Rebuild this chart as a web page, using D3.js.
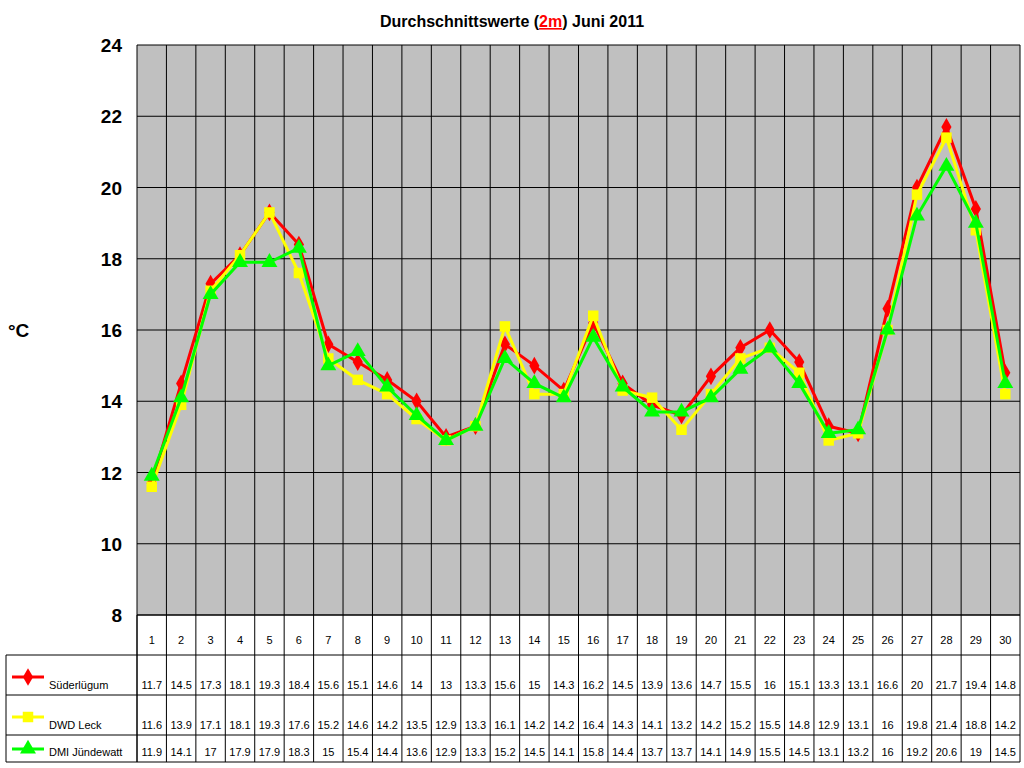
<!DOCTYPE html><html><head><meta charset="utf-8"><script src="https://cdn.jsdelivr.net/npm/d3@7"></script>
<style>body{margin:0;background:#fff}svg{font-family:"Liberation Sans",Arial,sans-serif}</style></head><body><svg width="1024" height="768"></svg><script>
const days=d3.range(1,31).map(String);
const yTicks=[8,10,12,14,16,18,20,22,24];
const seriesNames=["Süderlügum","DWD Leck","DMI Jündewatt"];
const suder=[11.7,14.5,17.3,18.1,19.3,18.4,15.6,15.1,14.6,14,13,13.3,15.6,15,14.3,16.2,14.5,13.9,13.6,14.7,15.5,16,15.1,13.3,13.1,16.6,20,21.7,19.4,14.8];
const leck=[11.6,13.9,17.1,18.1,19.3,17.6,15.2,14.6,14.2,13.5,12.9,13.3,16.1,14.2,14.2,16.4,14.3,14.1,13.2,14.2,15.2,15.5,14.8,12.9,13.1,16,19.8,21.4,18.8,14.2];
const dmi=[11.9,14.1,17,17.9,17.9,18.3,15,15.4,14.4,13.6,12.9,13.3,15.2,14.5,14.1,15.8,14.4,13.7,13.7,14.1,14.9,15.5,14.5,13.1,13.2,16,19.2,20.6,19,14.5];
const data=[suder,leck,dmi];
const colors=["#ff0000","#ffff00","#00ff00"];
const svg=d3.select("svg");
const L=137,R=1020,T=45,B=615;
const x=d3.scaleBand().domain(days).range([L,R]);
const y=d3.scaleLinear().domain([8,24]).range([B,T]);
svg.append("rect").attr("x",L).attr("y",T).attr("width",R-L).attr("height",B-T).attr("fill","#c0c0c0");
const t=svg.append("text").attr("x",512).attr("y",27).attr("text-anchor","middle").attr("font-size",16).attr("font-weight","bold");
t.append("tspan").text("Durchschnittswerte (");t.append("tspan").attr("fill","#ff0000").attr("text-decoration","underline").text("2m");t.append("tspan").text(") Juni 2011");
yTicks.forEach(v=>{svg.append("line").attr("x1",L).attr("x2",R).attr("y1",y(v)).attr("y2",y(v)).attr("stroke","#000");
 svg.append("text").attr("x",122).attr("y",y(v)+7).attr("text-anchor","end").attr("font-size",19).attr("font-weight","bold").text(v);});
svg.append("text").attr("x",8).attr("y",337).attr("font-size",19).attr("font-weight","bold").text("°C");
const rows=[655,695,735,762];
days.forEach((d,i)=>{svg.append("line").attr("x1",x(d)).attr("x2",x(d)).attr("y1",T).attr("y2",762).attr("stroke","#000");
 svg.append("text").attr("x",x(d)+x.bandwidth()/2).attr("y",644).attr("text-anchor","middle").attr("font-size",11).text(d);
 data.forEach((s,k)=>svg.append("text").attr("x",x(d)+x.bandwidth()/2).attr("y",rows[k+1]-6).attr("text-anchor","middle").attr("font-size",11).text(s[i]));});
svg.append("line").attr("x1",R).attr("x2",R).attr("y1",T).attr("y2",762).attr("stroke","#000");
svg.append("line").attr("x1",L).attr("x2",L).attr("y1",615).attr("y2",762).attr("stroke","#000");
svg.append("line").attr("x1",6).attr("x2",6).attr("y1",655).attr("y2",762).attr("stroke","#000");
rows.forEach(r=>svg.append("line").attr("x1",6).attr("x2",R).attr("y1",r).attr("y2",r).attr("stroke","#000"));
svg.append("line").attr("x1",L).attr("x2",R).attr("y1",615).attr("y2",615).attr("stroke","#000");
const sym=[d3.symbolDiamond,d3.symbolSquare,d3.symbolTriangle];
const sz=[90,110,110];
const line=d3.line().x((v,i)=>x(days[i])+x.bandwidth()/2).y(v=>y(v));
data.forEach((s,k)=>{
 svg.append("path").attr("d",line(s)).attr("fill","none").attr("stroke",colors[k]).attr("stroke-width",3);
 s.forEach((v,i)=>svg.append("path").attr("d",d3.symbol().type(sym[k]).size(sz[k])()).attr("transform",`translate(${x(days[i])+x.bandwidth()/2},${y(v)})`).attr("fill",colors[k]));
 const ly=k<2?rows[k]+22:rows[k]+14;
 svg.append("line").attr("x1",12).attr("x2",44).attr("y1",ly).attr("y2",ly).attr("stroke",colors[k]).attr("stroke-width",3);
 svg.append("path").attr("d",d3.symbol().type(sym[k]).size(sz[k])()).attr("transform",`translate(28,${ly})`).attr("fill",colors[k]);
 svg.append("text").attr("x",49).attr("y",rows[k+1]-6).attr("font-size",11).text(seriesNames[k]);
});
</script></body></html>
